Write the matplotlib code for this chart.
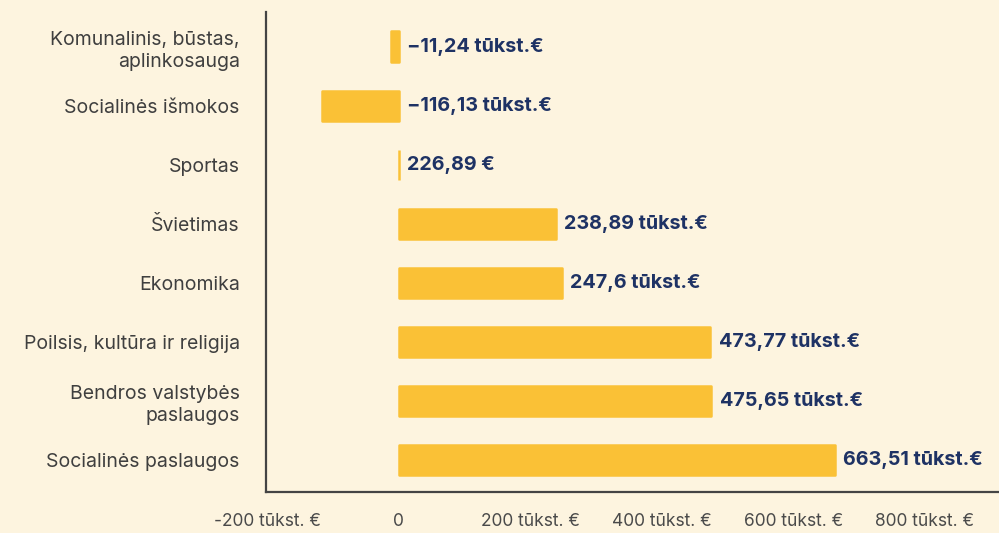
import matplotlib
matplotlib.use("Agg")
import matplotlib.pyplot as plt

categories = ["Komunalinis, būstas,\naplinkosauga", "Socialinės išmokos", "Sportas",
              "Švietimas", "Ekonomika", "Poilsis, kultūra ir religija",
              "Bendros valstybės\npaslaugos", "Socialinės paslaugos"]
values = [-11.24, -116.13, 0.22689, 238.89, 247.6, 473.77, 475.65, 663.51]
value_labels = ["−11,24 tūkst.€", "−116,13 tūkst.€", "226,89 €", "238,89 tūkst.€",
                "247,6 tūkst.€", "473,77 tūkst.€", "475,65 tūkst.€", "663,51 tūkst.€"]
tick_values = [-200, 0, 200, 400, 600, 800]
tick_labels = ["-200 tūkst. €", "0", "200 tūkst. €", "400 tūkst. €", "600 tūkst. €", "800 tūkst. €"]

bg = "#FDF4DF"
bar_color = "#FAC136"
navy = "#1E3264"
grey = "#3F3F3F"

fig = plt.figure(figsize=(9.99, 5.33), dpi=100, facecolor=bg)
ax = fig.add_axes([0.2663, 0.0769, 0.7337, 0.9006], facecolor=bg)

y = list(range(len(categories)))
ax.barh(y, values, height=0.52, color=bar_color, edgecolor=bar_color,
        linewidth=1.8, joinstyle="round", zorder=2)

for yi, v, lab in zip(y, values, value_labels):
    ax.annotate(lab, xy=(max(v, 0), yi), xytext=(6, 0), textcoords="offset points",
                ha="left", va="center", color=navy, fontsize=14.2,
                fontweight="bold", family="Inter")

ax.set_xlim(-202, 913)
ax.set_ylim(7.54, -0.59)
ax.set_yticks(y)
ax.set_yticklabels(categories, fontsize=14, color=grey, family="Inter",
                   linespacing=1.3)
ax.set_xticks(tick_values)
ax.set_xticklabels(tick_labels, fontsize=12.5, color="#4a4a4a", family="Inter")
ax.tick_params(axis="y", length=0, pad=19)
ax.tick_params(axis="x", length=0, pad=15)

for s in ["top", "right"]:
    ax.spines[s].set_visible(False)
for s in ["left", "bottom"]:
    ax.spines[s].set_color("#444444")
    ax.spines[s].set_linewidth(1.6)

fig.savefig("out.png", dpi=100, facecolor=bg)
